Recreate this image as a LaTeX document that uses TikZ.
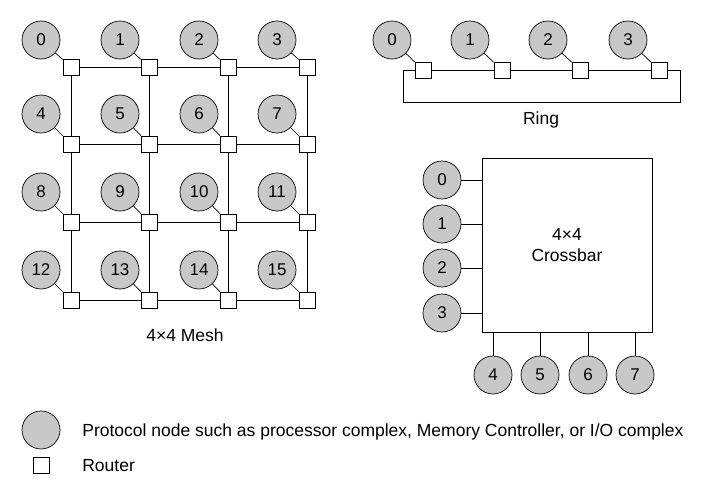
\documentclass[tikz,border=0pt]{standalone}
\usepackage{fontspec}
\setmainfont{Liberation Sans}
\begin{document}
\begin{tikzpicture}[x=1pt,y=-1pt,
  pn/.style={circle,draw,fill={rgb,255:red,200;green,200;blue,200},minimum size=38pt,inner sep=0pt,font=\fontsize{17}{19}\selectfont},
  rt/.style={rectangle,draw,fill=white,minimum size=16pt,inner sep=0pt},
  lbl/.style={font=\fontsize{17.5}{21}\selectfont,align=center},
  every path/.style={line width=0.7pt}]
\useasboundingbox (0,0) rectangle (720,493);
% Mesh
\foreach \i/\x/\rx in {0/41/71,1/120/149,2/199/228,3/277/307}{
  \foreach \j/\y/\ry in {0/40/67,1/114/144,2/192/222,3/270/300}{
    \coordinate (r\i\j) at (\rx,\ry);
  }}
\foreach \j in {0,...,3}{\draw (r0\j) -- (r3\j); \draw (r\j0) -- (r\j3);}
\foreach \i/\x/\rx in {0/41/71,1/120/149,2/199/228,3/277/307}{
  \foreach \j/\y/\ry in {0/40/67,1/114/144,2/192/222,3/270/300}{
    \pgfmathtruncatemacro\n{\j*4+\i}
    \node[pn] (m\n) at (\x,\y) {\n};
    \node[rt] (mr\n) at (r\i\j) {};
    \draw (m\n) -- (mr\n);
  }}
\node[lbl] (meshlbl) at (185,335) {4×4 Mesh};
% Ring
\coordinate (rl) at (403,70);
\coordinate (rr) at (680,70);
\coordinate (rlb) at (403,102);
\coordinate (rrb) at (680,102);
\draw (rl) -- (rr) -- (rrb) -- (rlb) -- cycle;
\foreach \n/\x/\rx in {0/392/423,1/470/502,2/548/580,3/628/659}{
  \node[pn] (g\n) at (\x,40) {\n};
  \node[rt] (gr\n) at (\rx,70) {};
  \draw (g\n) -- (gr\n);
}
\node[lbl] (ringlbl) at (541,120) {Ring};
% Crossbar
\node[draw,minimum width=170pt,minimum height=174pt,inner sep=0pt,lbl] (xb) at (567,245) {4×4\\Crossbar};
\foreach \n/\y in {0/180,1/224,2/268,3/313}{
  \node[pn] (c\n) at (442,\y) {\n};
  \draw (c\n) -- (c\n -| xb.west);
}
\foreach \n/\x in {4/493,5/540,6/588,7/635}{
  \node[pn] (c\n) at (\x,375) {\n};
  \draw (c\n) -- (c\n |- xb.south);
}
% Legend
\node[pn] (lc) at (41,430) {};
\node[lbl,anchor=west,inner sep=0pt] (lct) at (82,432) {Protocol node such as processor complex, Memory Controller, or I/O complex};
\node[rt] (lr) at (41,465) {};
\node[lbl,anchor=west,inner sep=0pt] (lrt) at (82,466) {Router};
\end{tikzpicture}
\end{document}
